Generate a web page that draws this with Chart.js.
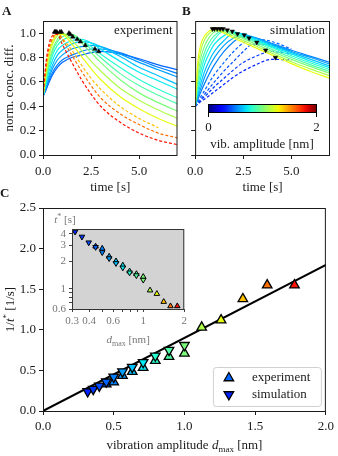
<!DOCTYPE html>
<html lang="en">
<head>
<meta charset="utf-8">
<title>Vibration amplitude</title>
<script src="https://cdn.jsdelivr.net/npm/chart.js@4.4.1/dist/chart.umd.min.js"></script>
<style>
    body { margin: 0; background: #fff; }
    #figura { position: relative; width: 338px; height: 456px; overflow: hidden;
              font-family: "Liberation Serif", "DejaVu Serif", serif; color: #1a1a1a; }
    #figura canvas { position: absolute; }
    .letra { position: absolute; font-weight: bold; font-size: 13px; line-height: 13px; }
    #barraColor { position: absolute; left: 208px; top: 104px; width: 109px; height: 9px;
                  box-sizing: border-box; border: 1px solid #000; }
    .marcaBarra { position: absolute; top: 113px; width: 1px; height: 4px; background: #000; }
    .textoBarra { position: absolute; font-size: 13px; line-height: 14px; transform: translateX(-50%); white-space: nowrap; }
</style>
</head>
<body>
<div id="figura">
    <canvas id="graficoA" width="182" height="195" style="left:0;top:0"></canvas>
    <canvas id="graficoB" width="156" height="195" style="left:182px;top:0"></canvas>
    <canvas id="graficoC" width="338" height="261" style="left:0;top:195px"></canvas>
    <canvas id="graficoInset" width="150" height="140" style="left:40px;top:210px"></canvas>
    <div id="barraColor"></div>
    <div class="marcaBarra" style="left:208px"></div>
    <div class="marcaBarra" style="left:316px"></div>
    <div class="textoBarra" style="left:208.5px;top:120px">0</div>
    <div class="textoBarra" style="left:316.5px;top:120px">2</div>
    <div class="textoBarra" style="left:262px;top:137px">vib. amplitude [nm]</div>
    <div class="letra" style="left:2px;top:4px">A</div>
    <div class="letra" style="left:182px;top:4px">B</div>
    <div class="letra" style="left:0px;top:186px">C</div>
</div>
<script>
// Tiempos comunes de todas las curvas (s)
const tiempos = [0, 0.15, 0.3, 0.5, 0.75, 1, 1.5, 2, 2.5, 3, 4, 5, 6, 7];

// Panel A: amplitudes del experimento (nm) y sus curvas normalizadas
const ampExp = [0.447, 0.5, 0.562, 0.631, 0.708, 0.794, 0.891, 1.0, 1.122, 1.259, 1.413, 1.585, 1.778];
const curvasExp = [
    [0.48, 0.53, 0.59, 0.66, 0.72, 0.76, 0.80, 0.82, 0.84, 0.85, 0.83, 0.79, 0.74, 0.70],
    [0.48, 0.54, 0.61, 0.68, 0.74, 0.78, 0.82, 0.85, 0.87, 0.87, 0.84, 0.78, 0.72, 0.67],
    [0.48, 0.55, 0.63, 0.71, 0.78, 0.82, 0.87, 0.89, 0.90, 0.89, 0.83, 0.76, 0.70, 0.64],
    [0.48, 0.57, 0.65, 0.74, 0.82, 0.86, 0.91, 0.93, 0.92, 0.89, 0.81, 0.72, 0.65, 0.58],
    [0.48, 0.58, 0.68, 0.78, 0.86, 0.90, 0.94, 0.95, 0.92, 0.87, 0.77, 0.68, 0.61, 0.54],
    [0.48, 0.60, 0.71, 0.82, 0.90, 0.94, 0.97, 0.94, 0.89, 0.83, 0.72, 0.62, 0.54, 0.47],
    [0.48, 0.62, 0.74, 0.85, 0.93, 0.97, 0.99, 0.94, 0.87, 0.80, 0.67, 0.57, 0.49, 0.42],
    [0.48, 0.63, 0.76, 0.87, 0.95, 0.99, 0.99, 0.92, 0.84, 0.76, 0.62, 0.51, 0.43, 0.36],
    [0.48, 0.66, 0.80, 0.91, 0.98, 1.00, 0.94, 0.86, 0.77, 0.69, 0.55, 0.45, 0.37, 0.30],
    [0.48, 0.68, 0.83, 0.93, 0.99, 0.99, 0.91, 0.81, 0.71, 0.62, 0.48, 0.38, 0.30, 0.235],
    [0.48, 0.70, 0.85, 0.95, 1.00, 0.96, 0.86, 0.74, 0.63, 0.54, 0.40, 0.30, 0.225, null],
    [0.48, 0.72, 0.87, 0.96, 1.00, 0.95, 0.82, 0.69, 0.57, 0.47, 0.34, 0.25, 0.18, 0.14],
    [0.48, 0.75, 0.90, 0.98, 0.99, 0.91, 0.76, 0.62, 0.50, 0.40, 0.27, 0.18, 0.12, 0.085]
];
const picoExpT = [2.9, 2.7, 2.2, 1.95, 1.78, 1.55, 1.42, 1.35, 0.96, 0.88, 0.72, 0.645, 0.6];
const picoExpY = [0.85, 0.87, 0.90, 0.93, 0.95, 0.97, 0.99, 1.0, 1.01, 1.01, 1.01, 1.01, 1.01];

// Panel B: amplitudes de la simulación (nm) y sus curvas
const ampSim = [0.316, 0.355, 0.398, 0.447, 0.5, 0.562, 0.631, 0.708, 0.794, 0.891, 1.0, 1.122, 1.259];
const curvasSim = [
    [0.40, 0.42, 0.44, 0.46, 0.49, 0.52, 0.58, 0.64, 0.69, 0.73, 0.785, 0.78, null, null],
    [0.40, 0.42, 0.45, 0.48, 0.52, 0.56, 0.63, 0.70, 0.76, 0.80, 0.85, 0.83, null, null],
    [0.40, 0.43, 0.46, 0.50, 0.55, 0.60, 0.69, 0.77, 0.85, 0.91, 0.90, 0.85, null, null],
    [0.40, 0.44, 0.48, 0.53, 0.60, 0.66, 0.76, 0.85, 0.92, 0.955, 0.93, 0.87, null, null],
    [0.40, 0.46, 0.52, 0.59, 0.67, 0.74, 0.85, 0.93, 0.975, 0.965, 0.915, 0.86, 0.81, 0.76],
    [0.40, 0.48, 0.55, 0.64, 0.73, 0.80, 0.90, 0.96, 0.985, 0.97, 0.91, 0.85, 0.80, 0.745],
    [0.40, 0.50, 0.59, 0.69, 0.78, 0.85, 0.94, 1.00, 0.995, 0.965, 0.90, 0.84, 0.785, 0.73],
    [0.40, 0.53, 0.64, 0.75, 0.84, 0.91, 0.98, 1.01, 0.985, 0.955, 0.89, 0.83, 0.77, 0.715],
    [0.40, 0.57, 0.69, 0.80, 0.89, 0.95, 1.02, 1.00, 0.975, 0.945, 0.88, 0.815, 0.755, 0.70],
    [0.40, 0.61, 0.74, 0.85, 0.93, 0.98, 1.025, 0.995, 0.965, 0.935, 0.865, 0.80, 0.74, 0.685],
    [0.40, 0.66, 0.80, 0.90, 0.97, 1.01, 1.02, 0.99, 0.955, 0.92, 0.85, 0.785, 0.725, 0.67],
    [0.40, 0.72, 0.86, 0.95, 1.00, 1.03, 1.01, 0.975, 0.94, 0.905, 0.835, 0.765, 0.705, 0.65],
    [0.40, 0.78, 0.91, 0.98, 1.02, 1.03, 1.00, 0.96, 0.925, 0.89, 0.82, 0.75, 0.685, 0.63]
];
const picoSimT = [4.17, 3.66, 3.2, 2.8, 2.55, 2.2, 1.93, 1.67, 1.45, 1.3, 1.15, 1.0, 0.9];
const picoSimY = [0.80, 0.86, 0.925, 0.96, 0.985, 0.995, 1.015, 1.025, 1.035, 1.035, 1.035, 1.035, 1.035];

// Panel C: tasa 1/t* frente a la amplitud
const ampSimC = [0.316, 0.355, 0.398, 0.447, 0.5, 0.562, 0.631, 0.708, 0.794, 0.891, 1.0];
const tasaSim = [0.24, 0.27, 0.31, 0.36, 0.42, 0.485, 0.54, 0.60, 0.68, 0.75, 0.81];
const tasaExp = [0.33, 0.355, 0.435, 0.485, 0.535, 0.62, 0.67, 0.71, 1.03, 1.12, 1.38, 1.55, 1.55];
const ajusteX = [0, 2];
const ajusteY = [0, 1.8];

// Recuadro: t* (s) en escala logarítmica
const tEstrellaSim = [4.2, 3.7, 3.2, 2.85, 2.5, 2.15, 1.9, 1.7, 1.5, 1.4, 1.25];
const tEstrellaExp = [2.9, 2.75, 2.25, 2.0, 1.8, 1.55, 1.45, 1.35, 0.96, 0.88, 0.72, 0.645, 0.645];
const insetTicksX = [0.3, 0.4, 0.5, 0.6, 0.7, 0.8, 0.9, 1, 2];
const insetEtiquetasX = ['0.3', '0.4', '', '0.6', '', '', '', '1', '2'];
const insetTicksY = [0.6, 0.7, 0.8, 0.9, 1, 2, 3, 4];
const insetEtiquetasY = ['0.6', '', '', '', '1', '2', '3', '4'];

const fuente = '"Liberation Serif", "DejaVu Serif", serif';
const tinta = '#1a1a1a';
const grisInset = '#777';

// Mapa de colores "jet" (0..1)
function jet(v) {
    const tramo = (pts) => {
        for (let i = 1; i < pts.length; i++) {
            if (v <= pts[i][0]) {
                const [x0, y0] = pts[i - 1], [x1, y1] = pts[i];
                return y0 + (y1 - y0) * (v - x0) / (x1 - x0);
            }
        }
        return pts[pts.length - 1][1];
    };
    const r = tramo([[0, 0], [0.35, 0], [0.66, 1], [0.89, 1], [1, 0.5]]);
    const g = tramo([[0, 0], [0.125, 0], [0.375, 1], [0.64, 1], [0.91, 0], [1, 0]]);
    const b = tramo([[0, 0.5], [0.11, 1], [0.34, 1], [0.65, 0], [1, 0]]);
    return `rgb(${Math.round(r * 255)}, ${Math.round(g * 255)}, ${Math.round(b * 255)})`;
}
const colorAmp = d => jet(Math.min(Math.max(d / 2, 0), 1));

// Barra de colores del panel B
const paradas = [];
for (let k = 0; k <= 20; k++) paradas.push(`${jet(k / 20)} ${k * 5}%`);
document.getElementById('barraColor').style.background = `linear-gradient(to right, ${paradas.join(', ')})`;

// Texto con partes en cursiva, subíndice o superíndice
function textoRico(ctx, partes, x, y, rotacion, color) {
    ctx.save();
    ctx.translate(x, y);
    ctx.rotate(rotacion);
    ctx.fillStyle = color;
    ctx.textAlign = 'left';
    ctx.textBaseline = 'alphabetic';
    let total = 0;
    partes.forEach(p => { ctx.font = p.fuente; p.ancho = ctx.measureText(p.texto).width; total += p.ancho; });
    let cx = -total / 2;
    partes.forEach(p => { ctx.font = p.fuente; ctx.fillText(p.texto, cx, p.dy || 0); cx += p.ancho; });
    ctx.restore();
}

// Marco alrededor del área del gráfico
const marco = {
    id: 'marco',
    beforeDraw(chart, args, opts) {
        if (!opts.fondo) return;
        const a = chart.chartArea;
        chart.ctx.save();
        chart.ctx.fillStyle = opts.fondo;
        chart.ctx.fillRect(a.left, a.top, a.right - a.left, a.bottom - a.top);
        chart.ctx.restore();
    },
    afterDatasetsDraw(chart, args, opts) {
        const {ctx, chartArea: a} = chart;
        ctx.save();
        ctx.strokeStyle = opts.color || tinta;
        ctx.lineWidth = 1;
        ctx.strokeRect(a.left + 0.5, a.top + 0.5, a.right - a.left - 1, a.bottom - a.top);
        ctx.restore();
    }
};

// Texto en la esquina superior derecha (experiment / simulation)
const textoEsquina = {
    id: 'textoEsquina',
    afterDatasetsDraw(chart, args, opts) {
        const {ctx, chartArea: a} = chart;
        ctx.save();
        ctx.font = `13px ${fuente}`;
        ctx.fillStyle = tinta;
        ctx.textAlign = 'right';
        ctx.textBaseline = 'middle';
        ctx.fillText(opts.texto, a.right - 5, a.top + 10);
        ctx.restore();
    }
};

function ejeLineal(min, max, paso, tamano, conEtiquetas, decimales) {
    return {
        type: 'linear', min: min, max: max,
        border: { display: false },
        grid: { drawOnChartArea: false, tickLength: 4, tickColor: tinta, tickWidth: 1 },
        ticks: {
            stepSize: paso, includeBounds: false, maxRotation: 0, autoSkip: false,
            padding: 3, color: tinta, font: { family: fuente, size: 13 },
            callback: v => conEtiquetas ? v.toFixed(decimales) : ''
        },
        afterFit: eje => { if (eje.isHorizontal()) eje.height = tamano; else eje.width = tamano; }
    };
}

function crearPanelCurvas(id, curvas, amps, picoT, picoY, esPunteada, etiqueta, conEjeY, rotacionPico) {
    const conjuntos = [{
        data: picoT.map((t, i) => ({ x: t, y: picoY[i] })),
        showLine: false,
        pointStyle: 'triangle',
        pointRotation: rotacionPico,
        pointRadius: 2.6,
        pointBackgroundColor: '#000',
        pointBorderColor: '#000',
        pointBorderWidth: 0.5,
        clip: false
    }];
    // Las amplitudes mayores quedan encima
    for (let i = curvas.length - 1; i >= 0; i--) {
        conjuntos.push({
            data: tiempos.map((t, k) => ({ x: t, y: curvas[i][k] })),
            borderColor: colorAmp(amps[i]),
            borderWidth: 1.2,
            borderDash: esPunteada(amps[i]) ? [3, 2] : [],
            pointRadius: 0,
            cubicInterpolationMode: 'monotone',
            spanGaps: false
        });
    }
    const ejeX = ejeLineal(0, 7, 2.5, 40, true, 1);
    ejeX.ticks.padding = 5;
    ejeX.title = { display: true, text: 'time [s]', color: tinta, font: { family: fuente, size: 13 }, padding: 0 };
    const ejeY = ejeLineal(0, 1.1, 0.2, conEjeY ? 43 : 12, conEjeY, 1);
    ejeY.title = { display: conEjeY, text: 'norm. conc. diff.', color: tinta,
                   font: { family: fuente, size: 13 }, padding: { top: 2, bottom: 0 } };
    return new Chart(document.getElementById(id), {
        type: 'line',
        data: { datasets: conjuntos },
        options: {
            responsive: false,
            animation: false,
            events: [],
            layout: { padding: { top: 21, right: conEjeY ? 4 : 8, left: 0, bottom: 0 } },
            plugins: {
                legend: { display: false },
                tooltip: { enabled: false },
                marco: {},
                textoEsquina: { texto: etiqueta }
            },
            scales: { x: ejeX, y: ejeY }
        },
        plugins: [marco, textoEsquina]
    });
}

crearPanelCurvas('graficoA', curvasExp, ampExp, picoExpT, picoExpY, d => d > 1.35, 'experiment', true, 0);
crearPanelCurvas('graficoB', curvasSim, ampSim, picoSimT, picoSimY, d => d < 0.47, 'simulation', false, 180);

// Títulos y leyenda del panel C
const titulosC = {
    id: 'titulosC',
    afterDraw(chart) {
        const {ctx, chartArea: a} = chart;
        const f = `13px ${fuente}`, fi = `italic 13px ${fuente}`, fs = `9px ${fuente}`;
        textoRico(ctx, [
            { texto: 'vibration amplitude ', fuente: f },
            { texto: 'd', fuente: fi },
            { texto: 'max', fuente: fs, dy: 3 },
            { texto: ' [nm]', fuente: f }
        ], (a.left + a.right) / 2, a.bottom + 38, 0, tinta);
        textoRico(ctx, [
            { texto: '1/', fuente: f },
            { texto: 't', fuente: fi },
            { texto: '*', fuente: fs, dy: -5 },
            { texto: ' [1/s]', fuente: f }
        ], 14, (a.top + a.bottom) / 2, -Math.PI / 2, tinta);

        // Leyenda
        const w = 108, h = 39, x0 = a.right - 5 - w, y0 = a.bottom - 5 - h;
        ctx.save();
        ctx.fillStyle = 'rgba(255,255,255,0.85)';
        ctx.strokeStyle = '#d0d0d0';
        ctx.lineWidth = 1;
        ctx.beginPath();
        ctx.roundRect(x0 + 0.5, y0 + 0.5, w, h, 3);
        ctx.fill();
        ctx.stroke();
        const filas = [
            { texto: 'experiment', color: colorAmp(ampExp[0]), arriba: true },
            { texto: 'simulation', color: colorAmp(ampSimC[0]), arriba: false }
        ];
        filas.forEach((fila, i) => {
            const cx = x0 + 16, cy = y0 + 11 + i * 16.5, r = 5.5, s = fila.arriba ? 1 : -1;
            ctx.beginPath();
            ctx.moveTo(cx, cy - s * r);
            ctx.lineTo(cx + r * 0.866, cy + s * r * 0.5);
            ctx.lineTo(cx - r * 0.866, cy + s * r * 0.5);
            ctx.closePath();
            ctx.fillStyle = fila.color;
            ctx.fill();
            ctx.strokeStyle = '#000';
            ctx.lineWidth = 1.3;
            ctx.stroke();
            ctx.fillStyle = tinta;
            ctx.font = `13px ${fuente}`;
            ctx.textAlign = 'left';
            ctx.textBaseline = 'middle';
            ctx.fillText(fila.texto, x0 + 39, cy);
        });
        ctx.restore();
    }
};

const ejeXC = ejeLineal(0, 2, 0.5, 45, true, 1);
ejeXC.ticks.padding = 4;
const ejeYC = ejeLineal(0, 2.5, 0.5, 43, true, 1);
new Chart(document.getElementById('graficoC'), {
    type: 'line',
    data: {
        datasets: [
            {
                data: ampSimC.map((d, i) => ({ x: d, y: tasaSim[i] })),
                showLine: false, pointStyle: 'triangle', pointRotation: 180, pointRadius: 5.5,
                pointBackgroundColor: ampSimC.map(colorAmp), pointBorderColor: '#000', pointBorderWidth: 1.3, clip: false
            },
            {
                data: ampExp.map((d, i) => ({ x: d, y: tasaExp[i] })),
                showLine: false, pointStyle: 'triangle', pointRotation: 0, pointRadius: 5.5,
                pointBackgroundColor: ampExp.map(colorAmp), pointBorderColor: '#000', pointBorderWidth: 1.3, clip: false
            },
            {
                data: ajusteX.map((x, i) => ({ x: x, y: ajusteY[i] })),
                borderColor: '#000', borderWidth: 2, pointRadius: 0
            }
        ]
    },
    options: {
        responsive: false,
        animation: false,
        events: [],
        layout: { padding: { top: 13, right: 8, left: 0, bottom: 0 } },
        plugins: { legend: { display: false }, tooltip: { enabled: false }, marco: {} },
        scales: { x: ejeXC, y: ejeYC }
    },
    plugins: [marco, titulosC]
});

// Recuadro logarítmico
function ejeLog(min, max, marcas, etiquetas, tamano) {
    return {
        type: 'logarithmic', min: min, max: max,
        border: { display: false },
        grid: { drawOnChartArea: false, tickLength: 3, tickColor: '#444', tickWidth: 1 },
        ticks: {
            autoSkip: false, maxRotation: 0, padding: 3, color: grisInset,
            font: { family: fuente, size: 11 },
            callback: (v, i) => etiquetas[i]
        },
        afterBuildTicks: eje => { eje.ticks = marcas.map(v => ({ value: v })); },
        afterFit: eje => { if (eje.isHorizontal()) eje.height = tamano; else eje.width = tamano; }
    };
}

const titulosInset = {
    id: 'titulosInset',
    afterDraw(chart) {
        const {ctx, chartArea: a} = chart;
        const f = `11px ${fuente}`, fi = `italic 11px ${fuente}`, fs = `8px ${fuente}`;
        textoRico(ctx, [
            { texto: 't', fuente: fi },
            { texto: '*', fuente: fs, dy: -4 },
            { texto: ' [s]', fuente: f }
        ], a.left - 7, a.top - 6, 0, grisInset);
        textoRico(ctx, [
            { texto: 'd', fuente: fi },
            { texto: 'max', fuente: fs, dy: 2.5 },
            { texto: ' [nm]', fuente: f }
        ], (a.left + a.right) / 2, a.bottom + 34, 0, grisInset);
    }
};

new Chart(document.getElementById('graficoInset'), {
    type: 'line',
    data: {
        datasets: [
            {
                data: ampSimC.map((d, i) => ({ x: d, y: tEstrellaSim[i] })),
                showLine: false, pointStyle: 'triangle', pointRotation: 180, pointRadius: 3.2,
                pointBackgroundColor: ampSimC.map(colorAmp), pointBorderColor: '#000', pointBorderWidth: 1, clip: false
            },
            {
                data: ampExp.map((d, i) => ({ x: d, y: tEstrellaExp[i] })),
                showLine: false, pointStyle: 'triangle', pointRotation: 0, pointRadius: 3.2,
                pointBackgroundColor: ampExp.map(colorAmp), pointBorderColor: '#000', pointBorderWidth: 1, clip: false
            }
        ]
    },
    options: {
        responsive: false,
        animation: false,
        events: [],
        layout: { padding: { top: 19, right: 4, left: 0, bottom: 0 } },
        plugins: { legend: { display: false }, tooltip: { enabled: false }, marco: { fondo: '#d3d3d3', color: '#333' } },
        scales: {
            x: ejeLog(0.3, 2, insetTicksX, insetEtiquetasX, 41),
            y: ejeLog(0.6, 4.5, insetTicksY, insetEtiquetasY, 32)
        }
    },
    plugins: [marco, titulosInset]
});
</script>
</body>
</html>
